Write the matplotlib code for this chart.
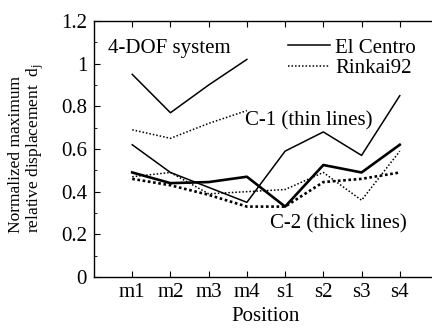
import matplotlib
matplotlib.use("Agg")
import matplotlib.pyplot as plt
from matplotlib.ticker import MultipleLocator

plt.rcParams['font.family'] = ['Liberation Serif', 'DejaVu Serif']
plt.rcParams['mathtext.fontset'] = 'custom'
plt.rcParams['mathtext.rm'] = 'Liberation Serif'
plt.rcParams['mathtext.it'] = 'Liberation Serif'

positions = ["m1", "m2", "m3", "m4", "s1", "s2", "s3", "s4"]
dof_positions = ["m1", "m2", "m3", "m4"]

dof_elcentro = [0.95, 0.77, 0.90, 1.02]
dof_rinkai = [0.69, 0.65, 0.72, 0.78]

c1_elcentro = [0.62, 0.49, 0.42, 0.35, 0.59, 0.68, 0.57, 0.85]
c1_rinkai = [0.47, 0.49, 0.39, 0.40, 0.41, 0.49, 0.36, 0.59]

c2_elcentro = [0.49, 0.44, 0.445, 0.47, 0.33, 0.525, 0.49, 0.62]
c2_rinkai = [0.46, 0.43, 0.385, 0.33, 0.33, 0.445, 0.46, 0.49]

fig = plt.figure(figsize=(4.32, 3.29), dpi=100)
ax = fig.add_axes([94/432, 1-277/329, (438-94)/432, (277-21)/329])

xi = list(range(1, len(positions)+1))
xd = list(range(1, len(dof_positions)+1))

thin, thick = 1.1, 1.9
dot = (0, (1, 1.3))

l1, = ax.plot(xd, dof_elcentro, color='black', lw=thin, ls='-')
l2, = ax.plot(xd, dof_rinkai, color='black', lw=thin, ls=dot)
ax.plot(xi, c1_elcentro, color='black', lw=thin, ls='-')
ax.plot(xi, c1_rinkai, color='black', lw=thin, ls=dot)
ax.plot(xi, c2_elcentro, color='black', lw=thick, ls='-')
ax.plot(xi, c2_rinkai, color='black', lw=thick, ls=(0, (1, 1)))

ax.set_xlim(0, 9)
ax.set_ylim(0, 1.2)
ax.set_xticks(xi)
ax.set_xticklabels(positions)
ax.set_yticks([0, 0.2, 0.4, 0.6, 0.8, 1.0, 1.2])
ax.set_yticklabels(["0", "0.2", "0.4", "0.6", "0.8", "1", "1.2"])
ax.yaxis.set_minor_locator(MultipleLocator(0.1))
ax.tick_params(axis='both', which='both', direction='in', labelsize=15)
ax.tick_params(axis='x', which='major', top=True, length=4, pad=4)
ax.tick_params(axis='y', which='major', length=4, pad=5)
ax.tick_params(axis='y', which='minor', length=2.5)
for s in ax.spines.values():
    s.set_linewidth(1.0)

ax.set_xlabel("Position", fontsize=15, labelpad=4)

fig.text(27/432, 1-233/329, "Normalized maximum\nrelative displacement  $d_j$",
         rotation=90, fontsize=12.5, ha='center', va='bottom',
         multialignment='left', linespacing=1.05)

ax.text(0.37, 1.07, "4-DOF system", fontsize=15, ha='left', va='center')
ax.text(3.94, 0.73, "C-1 (thin lines)", fontsize=15, ha='left', va='center')
ax.text(4.6, 0.25, "C-2 (thick lines)", fontsize=15, ha='left', va='center')

ax.legend([l1, l2], ["El Centro", "Rinkai92"], loc='upper left',
          bbox_to_anchor=((288-94)/344, 1-17/256), frameon=False, fontsize=15,
          handlelength=2.0, handletextpad=0.25, labelspacing=0.05,
          borderpad=0, borderaxespad=0)

fig.savefig("out.png", dpi=100)
